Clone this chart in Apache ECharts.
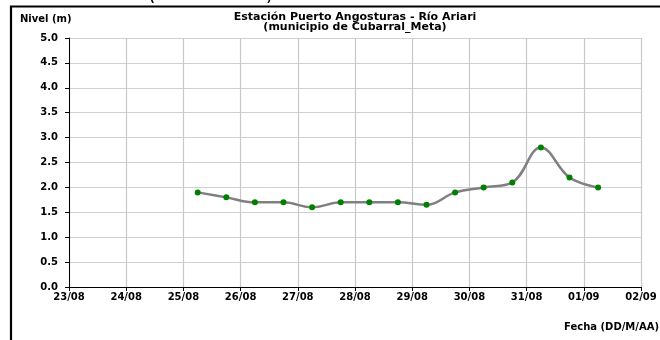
<!DOCTYPE html>
<html>
<head>
<meta charset="utf-8">
<script src="https://cdn.jsdelivr.net/npm/echarts@6/dist/echarts.min.js"></script>
<style>
  html, body { margin: 0; padding: 0; background: #fff; }
  #chart { width: 660px; height: 340px; }
</style>
</head>
<body>
<div id="chart"></div>
<script>
// fechas de las lecturas (dia/mes hora)
var fechas = ['25/08 06:00', '25/08 18:00', '26/08 06:00', '26/08 18:00', '27/08 06:00',
  '27/08 18:00', '28/08 06:00', '28/08 18:00', '29/08 06:00', '29/08 18:00',
  '30/08 06:00', '30/08 18:00', '31/08 06:00', '31/08 18:00', '01/09 06:00']
var niveles = [1.9, 1.8, 1.7, 1.7, 1.6, 1.7, 1.7, 1.7, 1.65, 1.9, 2.0, 2.1, 2.8, 2.2, 2.0]
var etiquetasX = ['23/08', '24/08', '25/08', '26/08', '27/08', '28/08', '29/08', '30/08', '31/08', '01/09', '02/09']

// dias transcurridos desde el 23/08
function diaDesdeInicio(f) {
  var p = f.split(' ')
  var dm = p[0].split('/')
  var hh = parseInt(p[1].split(':')[0], 10)
  var d = parseInt(dm[0], 10)
  if (dm[1] === '09') d += 31
  return d - 23 + hh / 24
}

var datos = fechas.map(function (f, i) { return [diaDesdeInicio(f), niveles[i]] })
var fuente = '"DejaVu Sans", Verdana, sans-serif'

var myChart = echarts.init(document.getElementById('chart'))
myChart.setOption({
  backgroundColor: '#fff',
  animation: false,
  textStyle: { fontFamily: fuente },
  grid: { left: 69, right: 19, top: 38, bottom: 53 },
  graphic: [
    {
      type: 'polyline',
      shape: { points: [[11, 345], [11, 6.5], [670, 6.5]] },
      style: { stroke: '#000', lineWidth: 2.2, fill: null }
    },
    {
      type: 'text',
      x: 150, y: -9,
      style: { text: '(                                  )', font: 'bold 12px Liberation Sans, Arial', fill: '#000' }
    },
    {
      type: 'text',
      x: 20, y: 19,
      style: { text: 'Nivel (m)', font: 'bold 10px ' + fuente, fill: '#000', verticalAlign: 'middle' }
    },
    {
      type: 'text',
      x: 355, y: 22,
      style: {
        text: 'Estación Puerto Angosturas - Río Ariari\n(municipio de Cubarral_Meta)',
        font: 'bold 11px ' + fuente, fill: '#000', align: 'center', verticalAlign: 'middle', lineHeight: 9.5
      }
    },
    {
      type: 'text',
      x: 659, y: 327,
      style: { text: 'Fecha (DD/M/AA)', font: 'bold 10px ' + fuente, fill: '#000', align: 'right', verticalAlign: 'middle' }
    }
  ],
  xAxis: {
    type: 'value',
    min: 0,
    max: 10,
    interval: 1,
    axisLine: { lineStyle: { color: '#000', width: 1 } },
    axisTick: { show: true, length: 4, lineStyle: { color: '#000' } },
    axisLabel: {
      color: '#000', fontWeight: 'bold', fontSize: 10, margin: 5,
      formatter: function (v) { return etiquetasX[Math.round(v)] }
    },
    splitLine: { show: true, lineStyle: { color: '#c8c8c8', width: 1.2 } }
  },
  yAxis: {
    type: 'value',
    min: 0,
    max: 5,
    interval: 0.5,
    axisLine: { show: true, lineStyle: { color: '#000', width: 1 } },
    axisTick: { show: true, length: 4, lineStyle: { color: '#000' } },
    axisLabel: {
      color: '#000', fontWeight: 'bold', fontSize: 10, margin: 11,
      formatter: function (v) { return v.toFixed(1) }
    },
    splitLine: { show: true, lineStyle: { color: '#d0d0d0', width: 1.2 } }
  },
  series: [
    {
      type: 'line',
      data: datos,
      smooth: 0.4,
      symbol: 'circle',
      symbolSize: 6,
      lineStyle: { color: '#808080', width: 2.5 },
      itemStyle: { color: '#008000' }
    }
  ]
})
</script>
</body>
</html>
